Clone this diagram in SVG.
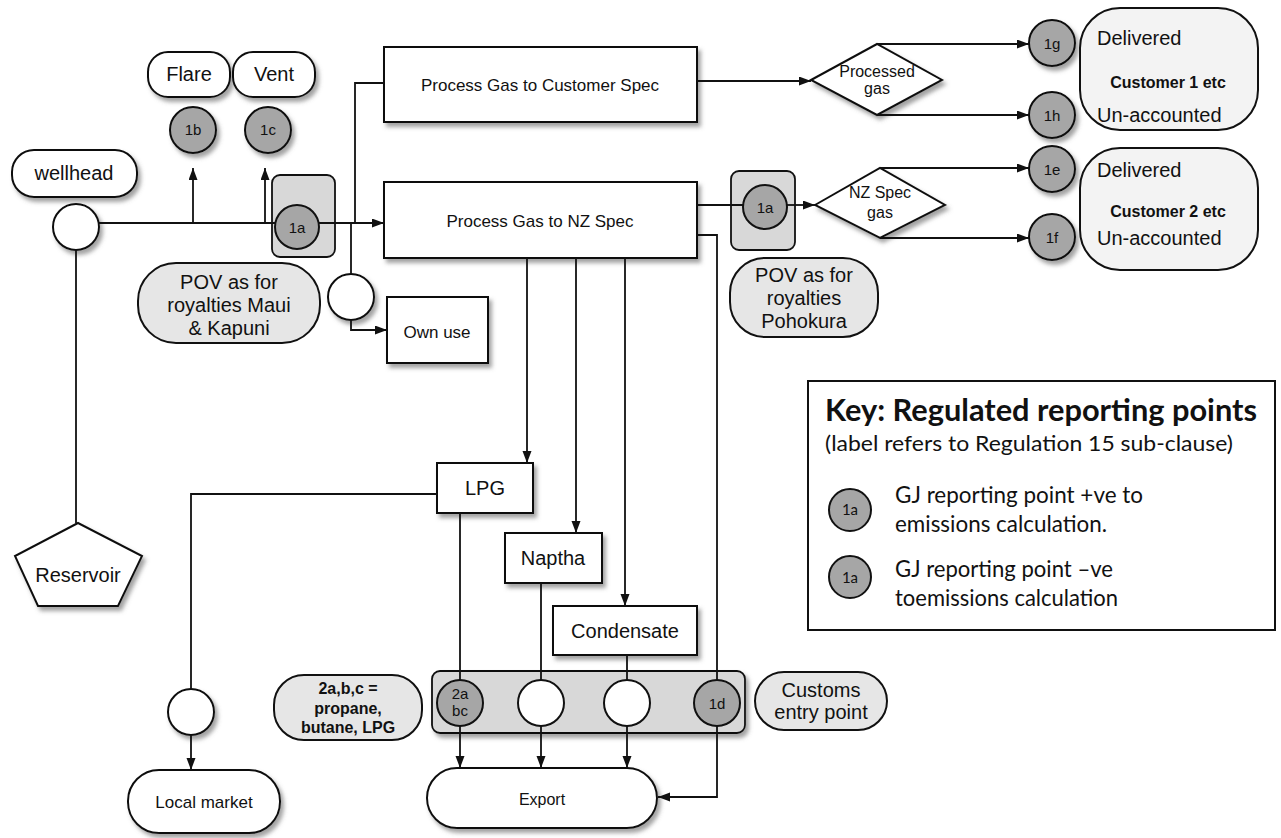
<svg xmlns="http://www.w3.org/2000/svg" width="1281" height="838" viewBox="0 0 1281 838">
<style>
text{font-family:"Liberation Sans",Arial,sans-serif;fill:#111}
.box{fill:#fff;stroke:#111;stroke-width:2}
.pov{fill:#e6e6e6;stroke:#111;stroke-width:2}
.cust{fill:#f3f3f3;stroke:#111;stroke-width:2}
.grp{fill:#d8d8d8;stroke:#111;stroke-width:1.8}
.gc{fill:#a6a6a6;stroke:#111;stroke-width:2}
.wc{fill:#fff;stroke:#111;stroke-width:2}
.sh{filter:url(#shadow)}
.c{text-anchor:middle}
.t20{font-size:20px}
.t17{font-size:17px}
.t16{font-size:16px}
.lab{font-size:15px;text-anchor:middle}
.b{font-weight:bold}
.conn path{fill:none;stroke:#111;stroke-width:1.8}
.key{font-family:Lato,"Open Sans","Liberation Sans",sans-serif}
</style>
<defs>
<marker id="arr" markerUnits="userSpaceOnUse" markerWidth="13" markerHeight="10" refX="12" refY="4.5" orient="auto">
<path d="M0,0 L12,4.5 L0,9 z" fill="#111"/>
</marker>
<filter id="shadow" x="-10%" y="-10%" width="130%" height="140%">
<feDropShadow dx="3" dy="4" stdDeviation="2" flood-color="#666" flood-opacity="0.6"/>
</filter>
</defs>
<rect width="1281" height="838" fill="#fff"/>

<g id="wellhead"><rect class="box sh" x="12" y="150" width="125" height="47" rx="22"/><text class="t20 c" x="74" y="180">wellhead</text></g>
<g id="wellhead-point"><circle class="wc sh" cx="76" cy="227" r="23"/></g>
<g id="reservoir"><polygon class="box sh" points="78,523 142,556 118,606 38,606 15,556"/><text class="t20 c" x="78" y="582">Reservoir</text></g>
<g id="flare"><rect class="box sh" x="148" y="52" width="82" height="45" rx="20"/><text class="t20 c" x="189" y="81">Flare</text></g>
<g id="vent"><rect class="box sh" x="233" y="52" width="82" height="45" rx="20"/><text class="t20 c" x="274" y="81">Vent</text></g>
<g id="p1b"><circle class="gc sh" cx="193" cy="130" r="23"/><text class="lab" x="193" y="135">1b</text></g>
<g id="p1c"><circle class="gc sh" cx="268" cy="130" r="23"/><text class="lab" x="268" y="135">1c</text></g>
<g id="p1a-left"><rect class="grp" x="272" y="175" width="63" height="82" rx="8"/><circle class="gc" cx="297" cy="227" r="22"/><text class="lab" x="297" y="233">1a</text></g>
<g id="pov-maui"><rect class="pov" x="138" y="263" width="182" height="80" rx="38"/><text class="t20 c" x="229" y="289">POV as for</text><text class="t20 c" x="229" y="312">royalties Maui</text><text class="t20 c" x="229" y="335">&amp; Kapuni</text></g>
<g id="customer-spec"><rect class="box sh" x="384" y="47" width="313" height="75"/><text class="t17 c" x="540" y="91">Process Gas to Customer Spec</text></g>
<g id="nz-spec"><rect class="box sh" x="384" y="182" width="313" height="76"/><text class="t17 c" x="540" y="227">Process Gas to NZ Spec</text></g>
<g id="own-use-point"><circle class="wc sh" cx="351" cy="297" r="23"/></g>
<g id="own-use"><rect class="box sh" x="387" y="297" width="101" height="66"/><text class="t17 c" x="437" y="338">Own use</text></g>
<g id="processed-gas"><polygon class="box sh" points="811,80 877,44 942,80 877,115"/><text class="t16 c" x="877" y="77">Processed</text><text class="t16 c" x="877" y="94">gas</text></g>
<g id="p1a-right"><rect class="grp" x="731" y="171" width="64" height="79" rx="8"/><circle class="gc" cx="765" cy="207" r="22"/><text class="lab" x="765" y="213">1a</text></g>
<g id="nz-spec-gas"><polygon class="box sh" points="815,205 880,168 945,205 880,238"/><text class="t16 c" x="880" y="198">NZ Spec</text><text class="t16 c" x="880" y="218">gas</text></g>
<g id="pov-pohokura"><rect class="pov" x="730" y="258" width="148" height="79" rx="35"/><text class="t20 c" x="804" y="282">POV as for</text><text class="t20 c" x="804" y="305">royalties</text><text class="t20 c" x="804" y="328">Pohokura</text></g>
<g id="p1g"><circle class="gc sh" cx="1052" cy="43" r="23"/><text class="lab" x="1052" y="49">1g</text></g>
<g id="p1h"><circle class="gc sh" cx="1052" cy="115" r="23"/><text class="lab" x="1052" y="121">1h</text></g>
<g id="p1e"><circle class="gc sh" cx="1052" cy="169" r="23"/><text class="lab" x="1052" y="175">1e</text></g>
<g id="p1f"><circle class="gc sh" cx="1052" cy="237" r="23"/><text class="lab" x="1052" y="243">1f</text></g>
<g id="customer1"><rect class="cust" x="1080" y="8" width="178" height="122" rx="40"/><text class="t20" x="1097" y="45">Delivered</text><text class="t16 b c" x="1168" y="88">Customer 1 etc</text><text class="t20" x="1097" y="122">Un-accounted</text></g>
<g id="customer2"><rect class="cust" x="1080" y="148" width="178" height="122" rx="40"/><text class="t20" x="1097" y="177">Delivered</text><text class="t16 b c" x="1168" y="217">Customer 2 etc</text><text class="t20" x="1097" y="245">Un-accounted</text></g>
<g id="lpg"><rect class="box sh" x="437" y="463" width="96" height="50"/><text class="t20 c" x="485" y="495">LPG</text></g>
<g id="naptha"><rect class="box sh" x="505" y="533" width="97" height="50"/><text class="t20 c" x="553" y="565">Naptha</text></g>
<g id="condensate"><rect class="box sh" x="553" y="606" width="144" height="49"/><text class="t20 c" x="625" y="638">Condensate</text></g>
<g id="local-point"><circle class="wc sh" cx="191" cy="712" r="23"/></g>
<g id="local-market"><rect class="box sh" x="128" y="770" width="152" height="63" rx="31"/><text class="t17 c" x="204" y="808">Local market</text></g>
<g id="label-2abc"><rect class="pov" x="274" y="675" width="148" height="65" rx="30"/><text class="t16 b c" x="348" y="694">2a,b,c =</text><text class="t16 b c" x="348" y="714">propane,</text><text class="t16 b c" x="348" y="733">butane, LPG</text></g>
<g id="export-points"><rect class="grp sh" x="432" y="671" width="313" height="62" rx="8"/>
<circle class="gc" cx="460" cy="703" r="23"/><text class="lab" x="460" y="699">2a</text><text class="lab" x="460" y="716">bc</text>
<circle class="wc" cx="541" cy="703" r="23"/>
<circle class="wc" cx="627" cy="703" r="23"/>
<circle class="gc" cx="717" cy="703" r="23"/><text class="lab" x="717" y="709">1d</text></g>
<g id="export"><rect class="box sh" x="427" y="768" width="230" height="60" rx="30"/><text class="t16 c" x="542" y="805">Export</text></g>
<g id="customs"><rect class="pov" x="755" y="672" width="132" height="58" rx="29"/><text class="t20 c" x="821" y="697">Customs</text><text class="t20 c" x="821" y="719">entry point</text></g>

<g id="key">
<rect x="808" y="381" width="467" height="249" fill="#fff" stroke="#111" stroke-width="2"/>
<text class="key b" x="825" y="421" font-size="30" textLength="432" lengthAdjust="spacingAndGlyphs">Key: Regulated reporting points</text>
<text class="key" x="825" y="451" font-size="22" textLength="408" lengthAdjust="spacingAndGlyphs">(label refers to Regulation 15 sub-clause)</text>
<circle class="gc" cx="850" cy="510" r="21"/><text class="key lab" x="850" y="515">1a</text>
<text class="key" x="895" y="503" font-size="24" textLength="248" lengthAdjust="spacingAndGlyphs">GJ reporting point +ve to</text>
<text class="key" x="895" y="532" font-size="24" textLength="212" lengthAdjust="spacingAndGlyphs">emissions calculation.</text>
<circle class="gc" cx="850" cy="577" r="21"/><text class="key lab" x="850" y="583">1a</text>
<text class="key" x="895" y="577" font-size="24" textLength="218" lengthAdjust="spacingAndGlyphs">GJ reporting point –ve</text>
<text class="key" x="895" y="606" font-size="24" textLength="223" lengthAdjust="spacingAndGlyphs">toemissions calculation</text>
</g>

<g class="conn" id="connectors">
<path d="M76 250 V523"/>
<path d="M99 223 H275"/>
<path d="M319 223 H384" marker-end="url(#arr)"/>
<path d="M193 223 V168" marker-end="url(#arr)"/>
<path d="M265 223 V168" marker-end="url(#arr)"/>
<path d="M355 223 V83 H384"/>
<path d="M351 223 V274"/>
<path d="M351 320 V330 H387" marker-end="url(#arr)"/>
<path d="M697 81 H811" marker-end="url(#arr)"/>
<path d="M877 44 H1029" marker-end="url(#arr)"/>
<path d="M877 115 H1029" marker-end="url(#arr)"/>
<path d="M697 205 H743"/>
<path d="M787 205 H815" marker-end="url(#arr)"/>
<path d="M880 168 H1029" marker-end="url(#arr)"/>
<path d="M880 238 H1029" marker-end="url(#arr)"/>
<path d="M697 235 H717 V680"/>
<path d="M717 726 V797 H658" marker-end="url(#arr)"/>
<path d="M527 258 V463" marker-end="url(#arr)"/>
<path d="M576 258 V533" marker-end="url(#arr)"/>
<path d="M625 258 V606" marker-end="url(#arr)"/>
<path d="M460 513 V680"/>
<path d="M460 726 V768" marker-end="url(#arr)"/>
<path d="M541 583 V680"/>
<path d="M541 726 V768" marker-end="url(#arr)"/>
<path d="M627 655 V680"/>
<path d="M627 726 V768" marker-end="url(#arr)"/>
<path d="M437 494 H191 V689"/>
<path d="M191 735 V770" marker-end="url(#arr)"/>
</g>
</svg>
